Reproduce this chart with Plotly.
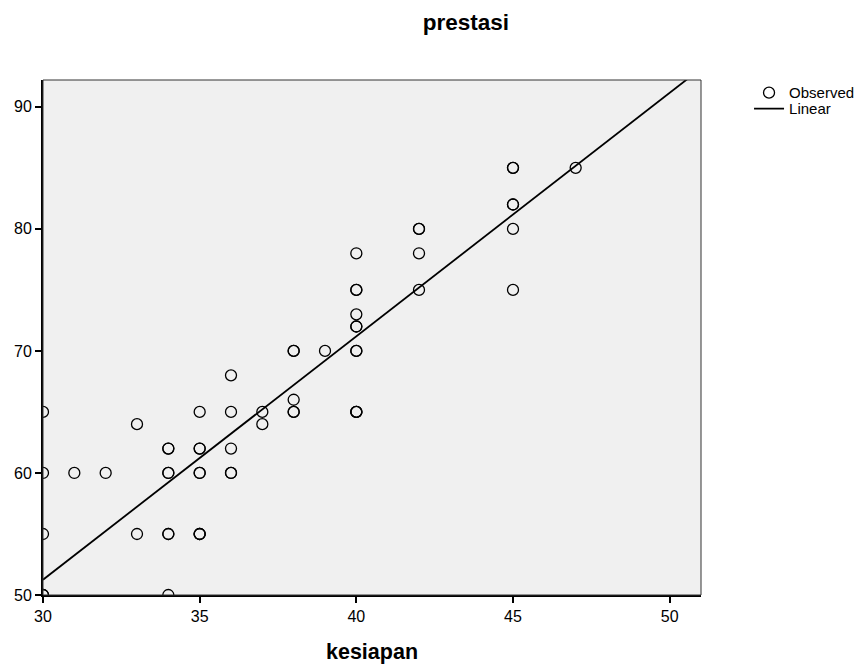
import numpy as np
import plotly.graph_objects as go

# Observed data (kesiapan, prestasi); duplicates included where markers look heavier
kesiapan = [30, 30, 30, 30, 30,
            31, 32,
            33, 33,
            34, 34, 34, 34, 34, 34, 34,
            35, 35, 35, 35, 35, 35, 35, 35,
            36, 36, 36, 36, 36,
            37, 37,
            38, 38, 38, 38, 38,
            39,
            40, 40, 40, 40, 40, 40, 40, 40, 40, 40, 40,
            42, 42, 42, 42,
            45, 45, 45, 45, 45, 45,
            47]
prestasi = [65, 60, 55, 50, 50,
            60, 60,
            64, 55,
            62, 62, 60, 60, 55, 55, 50,
            65, 62, 62, 60, 60, 55, 55, 55,
            68, 65, 62, 60, 60,
            65, 64,
            70, 70, 66, 65, 65,
            70,
            78, 75, 75, 73, 72, 72, 70, 70, 65, 65, 65,
            80, 80, 78, 75,
            85, 85, 82, 82, 80, 75,
            85]

# Linear fit coefficients
intercept = -8.6
slope = 1.995

x_range = [30, 51]
y_range = [50, 92.2]
x_ticks = [30, 35, 40, 45, 50]
y_ticks = [50, 60, 70, 80, 90]

FONT = "Liberation Sans, Arial, sans-serif"

fit_x = np.array(x_range, dtype=float)
fit_y = intercept + slope * fit_x

fig = go.Figure()
fig.add_trace(go.Scatter(
    x=kesiapan, y=prestasi, mode="markers", name="Observed", legend="legend",
    marker=dict(symbol="circle-open", size=11, color="black",
                line=dict(color="black", width=1.3)),
))
fig.add_trace(go.Scatter(
    x=fit_x, y=fit_y, mode="lines", name="Linear", legend="legend2",
    line=dict(color="black", width=1.8),
))

leg_common = dict(xanchor="left", yanchor="middle", bgcolor="rgba(0,0,0,0)",
                  font=dict(family=FONT, size=15), itemwidth=30, borderwidth=0)

# page body has an 8px default margin, so the figure is sized to fit the window
fig.update_layout(
    width=857, height=658,
    margin=dict(l=35, r=164, t=72, b=71, autoexpand=False),
    paper_bgcolor="white",
    plot_bgcolor="#F0F0F0",
    font=dict(family=FONT, color="black", size=16),
    title=dict(text="<b>prestasi</b>", x=0.5344, xanchor="center", xref="container",
               y=0.979, yanchor="middle", yref="container",
               font=dict(family=FONT, size=22.5, color="black")),
    showlegend=True,
    legend=dict(x=1.073, y=0.975, **leg_common),
    legend2=dict(x=1.073, y=0.944, **leg_common),
    shapes=[dict(type="rect", xref="paper", yref="paper", x0=0, x1=1, y0=0, y1=1,
                 line=dict(color="#333333", width=1), fillcolor="rgba(0,0,0,0)",
                 layer="above")],
)

fig.update_xaxes(
    range=x_range, tickvals=x_ticks, ticktext=[str(v) for v in x_ticks],
    showgrid=False, zeroline=False, automargin=False,
    showline=True, linecolor="black", linewidth=2,
    ticks="outside", ticklen=6, tickwidth=2, tickcolor="black",
    tickfont=dict(family=FONT, size=16),
    title=dict(text="<b>kesiapan</b>", font=dict(family=FONT, size=21.5), standoff=20),
)
fig.update_yaxes(
    range=y_range, tickvals=y_ticks, ticktext=[str(v) for v in y_ticks],
    showgrid=False, zeroline=False, automargin=False,
    showline=True, linecolor="black", linewidth=2,
    ticks="outside", ticklen=6, tickwidth=2, tickcolor="black",
    tickfont=dict(family=FONT, size=16),
)

fig.write_html("out.html")
